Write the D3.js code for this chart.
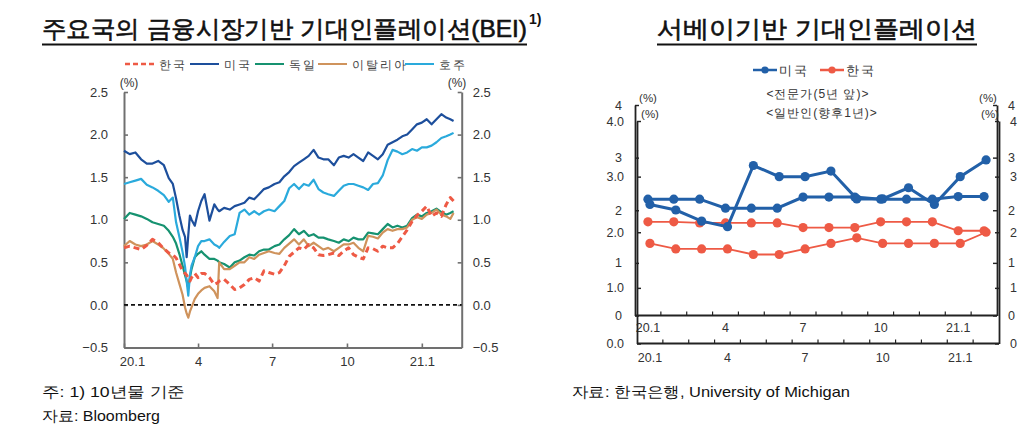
<!DOCTYPE html>
<html><head><meta charset="utf-8">
<script src="https://cdn.jsdelivr.net/npm/d3@7"></script>
<style>
body{margin:0;background:#fff;}
svg{display:block;}
text{font-family:"Liberation Sans",Arial,sans-serif;}
</style></head><body>
<svg id="c" width="1024" height="443"></svg>
<script>
// ---------------- Left chart data (BEI, %) ----------------
const beiDates = ["2020-01-01","2020-01-08","2020-01-15","2020-01-22","2020-01-29","2020-02-05","2020-02-12","2020-02-19","2020-02-25","2020-03-01",
"2020-03-05","2020-03-09","2020-03-13","2020-03-16","2020-03-18","2020-03-20","2020-03-22","2020-03-24","2020-03-28","2020-04-01",
"2020-04-05","2020-04-09","2020-04-15","2020-04-21","2020-04-25","2020-04-27","2020-05-03","2020-05-10","2020-05-16","2020-05-22",
"2020-05-28","2020-06-03","2020-06-09","2020-06-15","2020-06-21","2020-06-27","2020-07-04","2020-07-10","2020-07-16","2020-07-22",
"2020-07-28","2020-08-03","2020-08-09","2020-08-15","2020-08-21","2020-08-27","2020-09-02","2020-09-08","2020-09-15","2020-09-21",
"2020-09-27","2020-10-03","2020-10-09","2020-10-15","2020-10-21","2020-10-27","2020-11-02","2020-11-08","2020-11-14","2020-11-20",
"2020-11-26","2020-12-02","2020-12-08","2020-12-14","2020-12-20","2020-12-26","2021-01-01","2021-01-07","2021-01-13","2021-01-19",
"2021-01-25","2021-01-31","2021-02-05","2021-02-09"];
const beiUS = [1.81,1.77,1.79,1.71,1.66,1.66,1.69,1.64,1.49,1.42,
1.25,1.05,0.88,0.80,0.56,0.82,1.05,1.00,0.93,1.10,
1.22,1.30,0.99,1.18,1.12,1.10,1.14,1.12,1.16,1.18,
1.20,1.26,1.24,1.30,1.36,1.38,1.42,1.44,1.51,1.56,
1.63,1.67,1.71,1.75,1.82,1.73,1.71,1.71,1.64,1.73,
1.75,1.73,1.77,1.73,1.69,1.79,1.75,1.71,1.77,1.88,
1.91,1.94,1.98,2.00,2.06,2.12,2.14,2.18,2.12,2.18,
2.24,2.20,2.18,2.16];
const beiAustralia = [1.42,1.44,1.46,1.48,1.41,1.38,1.34,1.29,1.21,1.26,
0.97,0.80,0.62,0.45,0.28,0.11,0.35,0.46,0.56,0.69,
0.75,0.75,0.77,0.71,0.69,0.67,0.74,0.81,0.83,1.08,
1.12,1.06,1.10,1.06,1.10,1.12,1.10,1.16,1.22,1.37,
1.42,1.36,1.42,1.40,1.47,1.36,1.32,1.30,1.28,1.34,
1.40,1.42,1.42,1.40,1.38,1.35,1.42,1.43,1.52,1.70,
1.82,1.80,1.77,1.79,1.83,1.81,1.85,1.85,1.87,1.91,
1.96,1.98,2.00,2.02];
const beiGermany = [1.01,1.08,1.06,1.04,1.01,0.97,0.95,0.93,0.87,0.80,
0.72,0.60,0.46,0.35,0.28,0.20,0.32,0.42,0.56,0.60,
0.63,0.59,0.54,0.54,0.52,0.50,0.48,0.44,0.50,0.52,
0.56,0.59,0.58,0.63,0.65,0.65,0.69,0.71,0.77,0.82,
0.89,0.83,0.87,0.81,0.83,0.79,0.79,0.77,0.75,0.73,
0.77,0.75,0.79,0.77,0.77,0.85,0.84,0.83,0.89,0.95,
0.91,0.93,0.91,0.93,1.02,1.06,1.04,1.08,1.10,1.13,
1.09,1.06,1.08,1.10];
const beiItaly = [0.69,0.75,0.71,0.69,0.71,0.75,0.71,0.66,0.60,0.54,
0.38,0.25,0.12,-0.03,-0.10,-0.15,-0.08,-0.03,0.07,0.13,
0.17,0.20,0.22,0.16,0.08,0.50,0.42,0.42,0.46,0.50,
0.50,0.56,0.54,0.59,0.61,0.63,0.61,0.60,0.67,0.72,
0.77,0.71,0.77,0.69,0.73,0.69,0.65,0.67,0.63,0.67,
0.71,0.71,0.73,0.67,0.63,0.81,0.80,0.78,0.85,0.89,
0.87,0.89,0.89,0.91,1.00,1.03,1.01,1.06,1.08,1.12,
1.06,1.04,1.01,1.08];
const beiKorea = [0.67,0.69,0.67,0.65,0.70,0.77,0.73,0.66,0.61,0.59,
0.55,0.48,0.40,0.37,0.35,0.31,0.28,0.32,0.37,0.32,
0.37,0.37,0.32,0.24,0.26,0.28,0.30,0.24,0.18,0.20,
0.24,0.30,0.32,0.28,0.40,0.38,0.36,0.38,0.46,0.57,
0.62,0.67,0.65,0.71,0.67,0.59,0.58,0.59,0.61,0.58,
0.63,0.67,0.59,0.56,0.54,0.67,0.66,0.63,0.69,0.67,
0.67,0.72,0.80,0.88,0.98,1.05,1.10,1.16,1.04,1.08,
1.04,1.18,1.26,1.22];
const beiXTicks = ["2020-01-01","2020-04-01","2020-07-01","2020-10-01","2021-01-01"];
const beiXTickLabels = ["20.1","4","7","10","21.1"];
const beiYTicks = [-0.5,0,0.5,1,1.5,2,2.5];
const beiSeriesNames = ["한국","미국","독일","이탈리아","호주"];

// ---------------- Right chart data (survey, %) ----------------
const surveyMonths = ["2020-01","2020-02","2020-03","2020-04","2020-05","2020-06","2020-07","2020-08","2020-09","2020-10","2020-11","2020-12","2021-01","2021-02"];
const surveyXLabels = ["20.1","","","4","","","7","","","10","","","21.1",""];
const expertUS    = [2.21,2.21,2.21,2.04,2.04,2.04,2.25,2.25,2.25,2.21,2.21,2.21,2.26,2.26];
const expertKorea = [1.78,1.78,1.76,1.76,1.76,1.76,1.67,1.67,1.67,1.78,1.78,1.78,1.61,1.61];
const publicUS    = [2.5,2.4,2.2,2.1,3.2,3.0,3.0,3.1,2.6,2.6,2.8,2.5,3.0,3.3];
const publicKorea = [1.8,1.7,1.7,1.7,1.6,1.6,1.7,1.8,1.9,1.8,1.8,1.8,1.8,2.0];
const surveyYTicks = [0,1,2,3,4];
const surveySeriesNames = ["미국","한국"];

// ---------------- drawing ----------------
const svg = d3.select("#c");
const KR = '"Noto Sans CJK KR","Noto Sans",sans-serif';
const C = {kr:"#ee5a45", us:"#1d4f9c", de:"#169270", it:"#cf935c", au:"#2aaadc"};
const parse = d3.timeParse("%Y-%m-%d");

// titles
function title(txt, x, w, sup){
  svg.append("text").attr("x",x).attr("y",37).attr("font-family",KR).attr("font-size",24)
    .attr("font-weight",400).attr("fill","#111").attr("stroke","#111").attr("stroke-width",0.6)
    .attr("textLength",w).attr("lengthAdjust","spacingAndGlyphs").text(txt);
  svg.append("line").attr("x1",x).attr("x2",x+w).attr("y1",44.5).attr("y2",44.5).attr("stroke","#111").attr("stroke-width",2);
  if(sup) svg.append("text").attr("x",x+w+2).attr("y",24).attr("font-size",14).attr("font-weight",700).attr("fill","#111").text(sup);
}
title("주요국의  금융시장기반  기대인플레이션(BEI)", 42, 485, "1)");
title("서베이기반  기대인플레이션", 657, 320);

// ======== Left chart ========
const xL = d3.scaleTime().domain([parse("2020-01-01"), parse("2021-02-19")]).range([124, 461.7]);
const yL = d3.scaleLinear().domain([-0.5, 2.5]).range([347.5, 92]);
const fmtL = d => d < 0 ? "\u22120.5" : d.toFixed(1);

function styleAxis(g, col, w){
  g.select(".domain").attr("stroke",col).attr("stroke-width",w);
  g.selectAll(".tick line").attr("stroke",col).attr("stroke-width",w*0.8);
  g.selectAll(".tick text").attr("fill","#333").attr("font-size",13);
}
const gL = svg.append("g");
gL.append("g").attr("transform","translate(124,0)")
  .call(d3.axisLeft(yL).tickValues(beiYTicks).tickFormat(fmtL).tickSize(-4).tickSizeOuter(0).tickPadding(16))
  .call(g=>styleAxis(g,"#707070",2));
gL.append("g").attr("transform","translate(461.7,0)")
  .call(d3.axisRight(yL).tickValues(beiYTicks).tickFormat(fmtL).tickSize(-4).tickSizeOuter(0).tickPadding(11))
  .call(g=>styleAxis(g,"#707070",2));
gL.append("g").attr("transform","translate(0,347.5)")
  .call(d3.axisBottom(xL).tickValues(beiXTicks.map(parse)).tickFormat((d,i)=>beiXTickLabels[i]).tickSize(-4).tickSizeOuter(0).tickPadding(9))
  .call(g=>styleAxis(g,"#707070",2))
  .call(g=>g.selectAll(".tick text").filter((d,i)=>i===0).attr("dx",8));
gL.append("text").attr("x",129).attr("y",87).attr("text-anchor","middle").attr("font-size",12).attr("fill","#333").text("(%)");
gL.append("text").attr("x",457).attr("y",87).attr("text-anchor","middle").attr("font-size",12).attr("fill","#333").text("(%)");
// zero line
gL.append("line").attr("x1",xL.range()[0]).attr("x2",xL.range()[1]).attr("y1",yL(0)).attr("y2",yL(0))
  .attr("stroke","#111").attr("stroke-width",1.6).attr("stroke-dasharray","4,3");

const bei = [
  {name:"독일", vals:beiGermany, col:C.de, dash:null, w:2.2},
  {name:"이탈리아", vals:beiItaly, col:C.it, dash:null, w:2.2},
  {name:"호주", vals:beiAustralia, col:C.au, dash:null, w:2.2},
  {name:"미국", vals:beiUS, col:C.us, dash:null, w:2.2},
  {name:"한국", vals:beiKorea, col:C.kr, dash:"6,4", w:3}
];
const lineL = d3.line().x(d=>xL(d.date)).y(d=>yL(d.v));
bei.forEach(s=>{
  const pts = beiDates.map((d,i)=>({date:parse(d), v:s.vals[i]}));
  gL.append("path").datum(pts).attr("d",lineL).attr("fill","none").attr("stroke",s.col)
    .attr("stroke-width",s.w).attr("stroke-linejoin","round").attr("stroke-dasharray",s.dash);
});

// left legend
const legL = [
  {name:beiSeriesNames[0], col:C.kr, dash:"5,3", x:125},
  {name:beiSeriesNames[1], col:C.us, dash:null, x:190},
  {name:beiSeriesNames[2], col:C.de, dash:null, x:255},
  {name:beiSeriesNames[3], col:C.it, dash:null, x:318},
  {name:beiSeriesNames[4], col:C.au, dash:null, x:405}
];
legL.forEach(l=>{
  svg.append("line").attr("x1",l.x).attr("x2",l.x+29).attr("y1",64).attr("y2",64).attr("stroke",l.col)
    .attr("stroke-width",l.dash?2.6:2).attr("stroke-dasharray",l.dash);
  svg.append("text").attr("x",l.x+34).attr("y",68.5).attr("font-family",KR).attr("font-size",12)
    .attr("letter-spacing",2).attr("fill","#444").text(l.name);
});

// ======== Right chart (two overlaid frames) ========
const frames = [
  {x0:635, x1:997, yb:315.5, yt:105, fmt:d=>String(d), fmtR:d=>String(d), pct:[98,98], series:[expertKorea, expertUS], lblY:327},
  {x0:637, x1:999, yb:343.5, yt:121, fmt:d=>d.toFixed(1), fmtR:d=>String(d), pct:[114,114], series:[publicKorea, publicUS], lblY:357}
];
const colsR = [C.kr, "#2260a8"];
frames.forEach((f,fi)=>{
  const xb = d3.scaleBand().domain(surveyMonths).range([f.x0, f.x1]);
  const y = d3.scaleLinear().domain([0,4]).range([f.yb, f.yt]);
  const g = svg.append("g");
  g.append("g").attr("transform",`translate(${f.x0},0)`)
    .call(d3.axisLeft(y).tickValues(surveyYTicks).tickFormat(f.fmt).tickSize(-4).tickSizeOuter(0).tickPadding(13))
    .call(a=>styleAxis(a,"#222",1.8)).call(a=>a.selectAll(".tick text").attr("font-size",12.5));
  g.append("g").attr("transform",`translate(${f.x1},0)`)
    .call(d3.axisRight(y).tickValues(surveyYTicks).tickFormat(f.fmtR).tickSize(-4).tickSizeOuter(0).tickPadding(11))
    .call(a=>styleAxis(a,"#222",1.8)).call(a=>a.selectAll(".tick text").attr("font-size",12.5));
  g.append("line").attr("x1",f.x0).attr("x2",f.x1).attr("y1",f.yb).attr("y2",f.yb).attr("stroke","#222").attr("stroke-width",1.8);
  g.selectAll(".bt").data(surveyMonths.slice(1)).enter().append("line")
    .attr("x1",d=>xb(d)).attr("x2",d=>xb(d)).attr("y1",f.yb).attr("y2",f.yb-4).attr("stroke","#222").attr("stroke-width",1.2);
  g.selectAll(".bl").data(surveyMonths).enter().append("text")
    .attr("x",d=>xb(d)+xb.bandwidth()/2).attr("y",f.lblY+4.5).attr("text-anchor","middle")
    .attr("font-size",12.5).attr("fill","#333").text((d,i)=>surveyXLabels[i]);
  g.append("text").attr("x",f.x0+13).attr("y",f.pct[0]+4).attr("text-anchor","middle").attr("font-size",11.5).attr("fill","#333").text("(%)");
  g.append("text").attr("x",f.x1-9).attr("y",f.pct[1]+4).attr("text-anchor","middle").attr("font-size",11.5).attr("fill","#333").text("(%)");
  f.scales = {xb, y};
});
[0,1].forEach(si=>{
  frames.forEach(f=>{
    const {xb, y} = f.scales;
    const vals = f.series[si];
    const pts = surveyMonths.map((m,i)=>({m, v:vals[i]}));
    const w = si===1 ? 3 : 1.8;
    svg.append("path").datum(pts).attr("fill","none").attr("stroke",colsR[si]).attr("stroke-width",w)
      .attr("d", d3.line().x(d=>xb(d.m)+xb.bandwidth()/2).y(d=>y(d.v)));
    svg.selectAll(null).data(pts).enter().append("circle")
      .attr("cx",d=>xb(d.m)+xb.bandwidth()/2).attr("cy",d=>y(d.v)).attr("r",4.6).attr("fill",colsR[si]);
  });
});
const legR = [{name:surveySeriesNames[0], col:"#2260a8", x:753},{name:surveySeriesNames[1], col:C.kr, x:820}];
legR.forEach(l=>{
  svg.append("line").attr("x1",l.x).attr("x2",l.x+24).attr("y1",70).attr("y2",70).attr("stroke",l.col).attr("stroke-width",2.5);
  svg.append("circle").attr("cx",l.x+12).attr("cy",70).attr("r",3.6).attr("fill",l.col);
  svg.append("text").attr("x",l.x+26).attr("y",74.5).attr("font-family",KR).attr("font-size",12.5).attr("letter-spacing",1.5).attr("fill","#333").text(l.name);
});
svg.append("text").attr("x",818).attr("y",98).attr("text-anchor","middle").attr("font-family",KR).attr("font-size",12).attr("letter-spacing",1).attr("fill","#333").text("<전문가(5년 앞)>");
svg.append("text").attr("x",822).attr("y",116.5).attr("text-anchor","middle").attr("font-family",KR).attr("font-size",12).attr("letter-spacing",1).attr("fill","#333").text("<일반인(향후1년)>");

function foot(txt,x,y,w){
  svg.append("text").attr("x",x).attr("y",y).attr("font-family",KR).attr("font-size",15).attr("fill","#111")
    .attr("textLength",w).attr("lengthAdjust","spacingAndGlyphs").text(txt);
}
foot("주: 1) 10년물 기준", 42, 397, 143);
foot("자료: Bloomberg", 42, 421, 118);
foot("자료: 한국은행, University of Michigan", 572, 397, 278);
</script>
</body></html>
